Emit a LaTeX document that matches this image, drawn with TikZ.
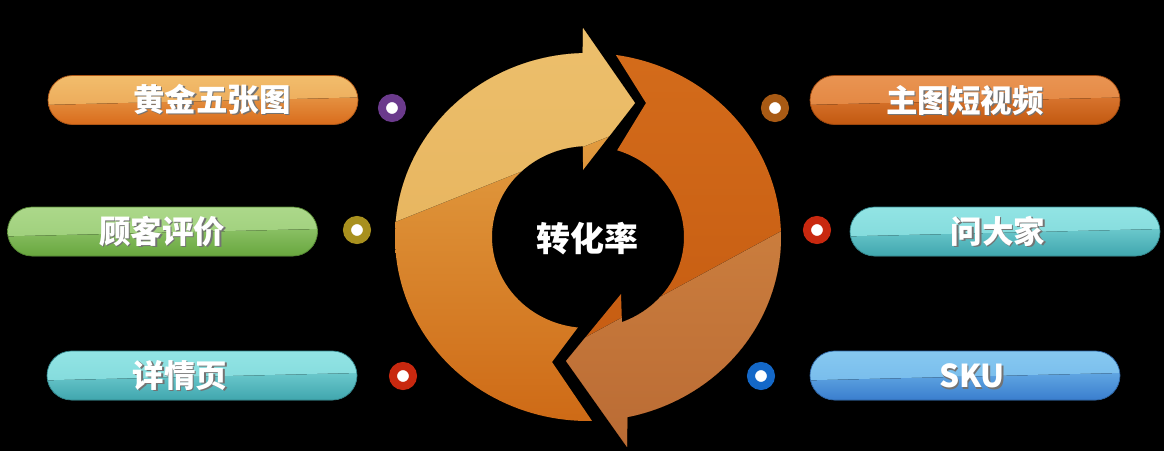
\documentclass[tikz,border=0pt]{standalone}
\usepackage{fontspec}
\newfontfamily\cjk{Noto Sans CJK SC}
\usetikzlibrary{calc}
\definecolor{bgc}{HTML}{000000}
\definecolor{la1}{HTML}{E9AF50}\definecolor{la2}{HTML}{CC6512}
\definecolor{lg1}{HTML}{EDC16E}\definecolor{lg2}{HTML}{E7B45E}
\definecolor{ra1}{HTML}{D46C1B}\definecolor{ra2}{HTML}{C2580F}
\definecolor{rg1}{HTML}{CB7E3E}\definecolor{rg2}{HTML}{BA6B34}
\definecolor{o1a}{HTML}{F2BD6C}\definecolor{o1b}{HTML}{E9A050}\definecolor{o1c}{HTML}{D96C1C}
\definecolor{g1a}{HTML}{ACD88A}\definecolor{g1b}{HTML}{98CB74}\definecolor{g1c}{HTML}{68A63E}
\definecolor{t1a}{HTML}{92E4E4}\definecolor{t1b}{HTML}{7CD6D8}\definecolor{t1c}{HTML}{40A6AE}
\definecolor{o2a}{HTML}{E99452}\definecolor{o2b}{HTML}{E0803A}\definecolor{o2c}{HTML}{C25810}
\definecolor{b1a}{HTML}{86C8F0}\definecolor{b1b}{HTML}{70B6EA}\definecolor{b1c}{HTML}{3A7ECE}
\definecolor{cpur}{HTML}{6B3A8C}\definecolor{coli}{HTML}{A8901E}\definecolor{cred}{HTML}{C8280F}
\definecolor{cbrn}{HTML}{A85A14}\definecolor{cblu}{HTML}{1468C8}
\newcommand\shtxt[1]{\rlap{\kern1.6pt\raisebox{-1.6pt}{\color{black!55}#1}}#1}
\newcommand\LArrPath{plot[domain=0:1,samples=90,variable=\s] ({588+193*cos(88.8+179.7*\s)},{237+184*sin(88.8+179.7*\s)}) -- (583,28) -- (635,103) -- (583,170) -- plot[domain=0:1,samples=90,variable=\s] ({588+96*cos(267-171*\s)},{237+91*sin(267-171*\s)}) -- (552,362) -- cycle}
\newcommand\RArrPath{plot[domain=0:1,samples=90,variable=\s] ({588+193*cos(-81.7+160*\s)},{237+184*sin(-81.7+160*\s)}) -- (627,447) -- (566,361) -- (621,294) -- plot[domain=0:1,samples=90,variable=\s] ({588+96*cos(69.3-141.7*\s)},{237+91*sin(69.3-141.7*\s)}) -- (646,103) -- cycle}
\tikzset{
  pill/.style n args={4}{rectangle, rounded corners=24.5pt, minimum width=310pt, minimum height=49pt,
    inner sep=0pt, draw=#4, line width=0.7pt,
    path picture={
      \fill[sharp corners, top color=#1, bottom color=#2] (path picture bounding box.north west) rectangle (path picture bounding box.south east);
      \fill[sharp corners, top color=#2!70!#3, bottom color=#3]
        ($(path picture bounding box.south west)!0.40!(path picture bounding box.north west)$) --
        ($(path picture bounding box.south east)!0.55!(path picture bounding box.north east)$) --
        (path picture bounding box.south east) -- (path picture bounding box.south west) -- cycle;
    }},
  lbl/.style={text=white, inner sep=0pt, font=\cjk\bfseries\fontsize{31.5}{36}\selectfont},
  dot/.style={circle, fill=white, draw=#1, line width=8pt, minimum size=20pt, inner sep=0pt},
}
\begin{document}
\begin{tikzpicture}[x=1pt,y=-1pt]
\fill[bgc] (0,0) rectangle (1164,451);
\useasboundingbox (0,0) rectangle (1164,451);
% left (light) arrow
\begin{scope}
  \clip \LArrPath;
  \fill[top color=la1, bottom color=la2] (380,20) rectangle (800,451);
  \fill[top color=lg1, bottom color=lg2] (300,260) -- (720,92) -- (720,0) -- (300,0) -- cycle;
\end{scope}
% right (dark) arrow
\begin{scope}
  \clip \RArrPath;
  \fill[top color=ra1, bottom color=ra2] (560,40) rectangle (800,451);
  \fill[top color=rg1, bottom color=rg2] (540,362) -- (800,221) -- (800,451) -- (540,451) -- cycle;
\end{scope}
\node[lbl, font=\cjk\bfseries\fontsize{34}{38}\selectfont] (center) at (587,239) {转化率};
% pills
\node[pill={o1a}{o1b}{o1c}{o1c!80!black}] (p1) at (203,100) {};
\node[pill={g1a}{g1b}{g1c}{g1c!80!black}] (p2) at (162.5,231.5) {};
\node[pill={t1a}{t1b}{t1c}{t1c!80!black}] (p3) at (202,375.5) {};
\node[pill={o2a}{o2b}{o2c}{o2c!80!black}] (p4) at (965,100) {};
\node[pill={t1a}{t1b}{t1c}{t1c!80!black}] (p5) at (1005,231.5) {};
\node[pill={b1a}{b1b}{b1c}{b1c!80!black}] (p6) at (965,375.5) {};
\node[lbl] (t1) at (212,100) {\shtxt{黄金五张图}};
\node[lbl] (t2) at (162,232) {\shtxt{顾客评价}};
\node[lbl] (t3) at (180,376) {\shtxt{详情页}};
\node[lbl] (t4) at (965,101) {\shtxt{主图短视频}};
\node[lbl] (t5) at (998,232) {\shtxt{问大家}};
\node[lbl] (t6) at (972,376.5) {\shtxt{SKU}};
% dots
\node[dot=cpur] (d1) at (392,108) {};
\node[dot=coli] (d2) at (357,230) {};
\node[dot=cred] (d3) at (403,376) {};
\node[dot=cbrn] (d4) at (775,108) {};
\node[dot=cred] (d5) at (817,230) {};
\node[dot=cblu] (d6) at (761,376) {};
\end{tikzpicture}
\end{document}
